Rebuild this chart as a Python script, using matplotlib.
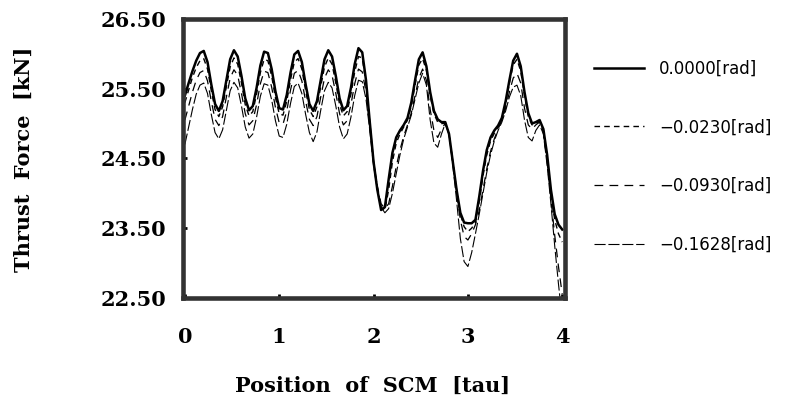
import numpy as np
import matplotlib
matplotlib.use("Agg")
import matplotlib.pyplot as plt

# position of SCM [tau], sampled every 0.04
position = np.round(np.arange(0, 4.001, 0.04), 2)

# thrust force [kN] for each angle
f_0000 = [25.40, 25.58, 25.75, 25.90, 26.01, 26.04, 25.88, 25.56, 25.28, 25.18,
          25.32, 25.62, 25.92, 26.05, 25.96, 25.68, 25.36, 25.19, 25.25, 25.51,
          25.83, 26.03, 26.01, 25.78, 25.46, 25.22, 25.20, 25.41, 25.73, 25.99,
          26.04, 25.88, 25.56, 25.28, 25.18, 25.32, 25.62, 25.92, 26.05, 25.96,
          25.68, 25.36, 25.19, 25.25, 25.51, 25.85, 26.08, 26.02, 25.62, 25.02,
          24.45, 24.05, 23.76, 23.80, 24.20, 24.58, 24.80, 24.90, 24.98, 25.08,
          25.30, 25.62, 25.92, 26.02, 25.82, 25.45, 25.18, 25.06, 25.02, 25.02,
          24.85, 24.45, 24.05, 23.72, 23.58, 23.57, 23.57, 23.62, 23.95, 24.32,
          24.62, 24.80, 24.90, 24.97, 25.08, 25.32, 25.62, 25.90, 26.00, 25.82,
          25.45, 25.15, 25.00, 25.02, 25.05, 24.92, 24.55, 24.05, 23.70, 23.55,
          23.48]

f_0230 = [25.30, 25.48, 25.66, 25.80, 25.90, 25.93, 25.78, 25.47, 25.20, 25.10,
          25.24, 25.53, 25.81, 25.94, 25.85, 25.58, 25.27, 25.11, 25.17, 25.42,
          25.73, 25.92, 25.90, 25.68, 25.37, 25.14, 25.12, 25.32, 25.63, 25.88,
          25.93, 25.78, 25.47, 25.20, 25.10, 25.24, 25.53, 25.81, 25.94, 25.85,
          25.58, 25.27, 25.11, 25.17, 25.42, 25.74, 25.96, 25.94, 25.58, 25.02,
          24.45, 24.08, 23.80, 23.76, 24.05, 24.45, 24.72, 24.85, 24.95, 25.05,
          25.25, 25.55, 25.84, 25.93, 25.76, 25.40, 25.14, 25.02, 25.00, 25.00,
          24.85, 24.45, 24.05, 23.70, 23.52, 23.45, 23.50, 23.58, 23.88, 24.25,
          24.55, 24.75, 24.86, 24.95, 25.05, 25.28, 25.58, 25.84, 25.92, 25.75,
          25.40, 25.10, 24.98, 25.00, 25.03, 24.90, 24.50, 24.00, 23.62, 23.42,
          23.30]

f_0930 = [25.05, 25.25, 25.45, 25.62, 25.73, 25.76, 25.61, 25.32, 25.06, 24.97,
          25.10, 25.38, 25.65, 25.77, 25.69, 25.43, 25.14, 24.98, 25.04, 25.27,
          25.57, 25.75, 25.73, 25.52, 25.23, 25.01, 24.99, 25.18, 25.48, 25.72,
          25.76, 25.61, 25.32, 25.06, 24.97, 25.10, 25.38, 25.65, 25.77, 25.69,
          25.43, 25.14, 24.98, 25.04, 25.27, 25.57, 25.78, 25.74, 25.45, 24.95,
          24.45, 24.10, 23.85, 23.78, 23.85, 24.10, 24.38, 24.62, 24.82, 24.98,
          25.15, 25.40, 25.65, 25.78, 25.62, 25.20, 24.90, 24.80, 24.92, 25.00,
          24.85, 24.45, 24.02, 23.62, 23.38, 23.33, 23.42, 23.55, 23.75, 24.05,
          24.35, 24.60, 24.78, 24.92, 25.05, 25.22, 25.45, 25.65, 25.72, 25.58,
          25.22, 24.98, 24.92, 24.98, 25.02, 24.88, 24.45, 23.92, 23.40, 22.95,
          22.55]

f_1628 = [24.70, 24.95, 25.20, 25.42, 25.55, 25.58, 25.43, 25.13, 24.87, 24.78,
          24.91, 25.19, 25.47, 25.59, 25.51, 25.25, 24.95, 24.79, 24.85, 25.09,
          25.39, 25.57, 25.55, 25.34, 25.04, 24.82, 24.80, 24.99, 25.29, 25.53,
          25.58, 25.43, 25.13, 24.87, 24.74, 24.88, 25.19, 25.47, 25.59, 25.51,
          25.25, 24.95, 24.78, 24.85, 25.09, 25.40, 25.62, 25.60, 25.35, 24.90,
          24.40, 24.05, 23.80, 23.72, 23.78, 24.00, 24.28, 24.55, 24.78, 24.95,
          25.12, 25.35, 25.58, 25.72, 25.55, 25.05, 24.72, 24.66, 24.85, 25.00,
          24.85, 24.40, 23.90, 23.35, 23.02, 22.95, 23.15, 23.42, 23.70, 24.00,
          24.30, 24.55, 24.75, 24.90, 25.02, 25.18, 25.38, 25.52, 25.55, 25.40,
          25.05, 24.80, 24.75, 24.90, 24.98, 24.85, 24.40, 23.85, 23.25, 22.70,
          22.20]

labels = ["0.0000[rad]", "\u22120.0230[rad]", "\u22120.0930[rad]", "\u22120.1628[rad]"]
y_ticks = [22.5, 23.5, 24.5, 25.5, 26.5]
x_ticks = [0, 1, 2, 3, 4]

fig = plt.figure(figsize=(7.97, 4.19), dpi=100)
ax = fig.add_axes([0.2296, 0.289, 0.4794, 0.666])

ax.plot(position, f_0000, color="black", lw=1.8, label=labels[0])
ax.plot(position, f_0230, color="black", lw=1.0, dashes=(4, 3), label=labels[1])
ax.plot(position, f_0930, color="black", lw=0.9, dashes=(7, 5), label=labels[2])
ax.plot(position, f_1628, color="black", lw=0.8, dashes=(10, 2.5), label=labels[3])

ax.set_xlim(-0.02, 4.03)
ax.set_ylim(22.5, 26.5)

# frame
for s in ax.spines.values():
    s.set_linewidth(3.3)
    s.set_color("#333333")

serif = {"family": "DejaVu Serif", "weight": "bold"}
ax.set_yticks(y_ticks)
ax.set_yticklabels([f"{v:.2f}" for v in y_ticks], fontdict=serif, fontsize=15)
ax.set_xticks(x_ticks)
ax.set_xticklabels([str(v) for v in x_ticks], fontdict=serif, fontsize=15)
ax.tick_params(axis="x", direction="in", length=3, width=2, pad=21)
ax.tick_params(axis="y", direction="in", length=3, width=2, pad=12)

fig.text(0.03, 0.62, "Thrust  Force  [kN]", rotation=90, ha="center", va="center",
         fontsize=15, **serif)
fig.text(0.468, 0.08, "Position  of  SCM  [tau]", ha="center", va="center",
         fontsize=15, **serif)

fig.legend(loc="center left", bbox_to_anchor=(0.735, 0.626), frameon=False,
           prop={"family": "DejaVu Sans", "size": 12}, handlelength=3.0,
           handletextpad=0.9, labelspacing=2.45, borderpad=0)

fig.savefig("out.png", dpi=100)
